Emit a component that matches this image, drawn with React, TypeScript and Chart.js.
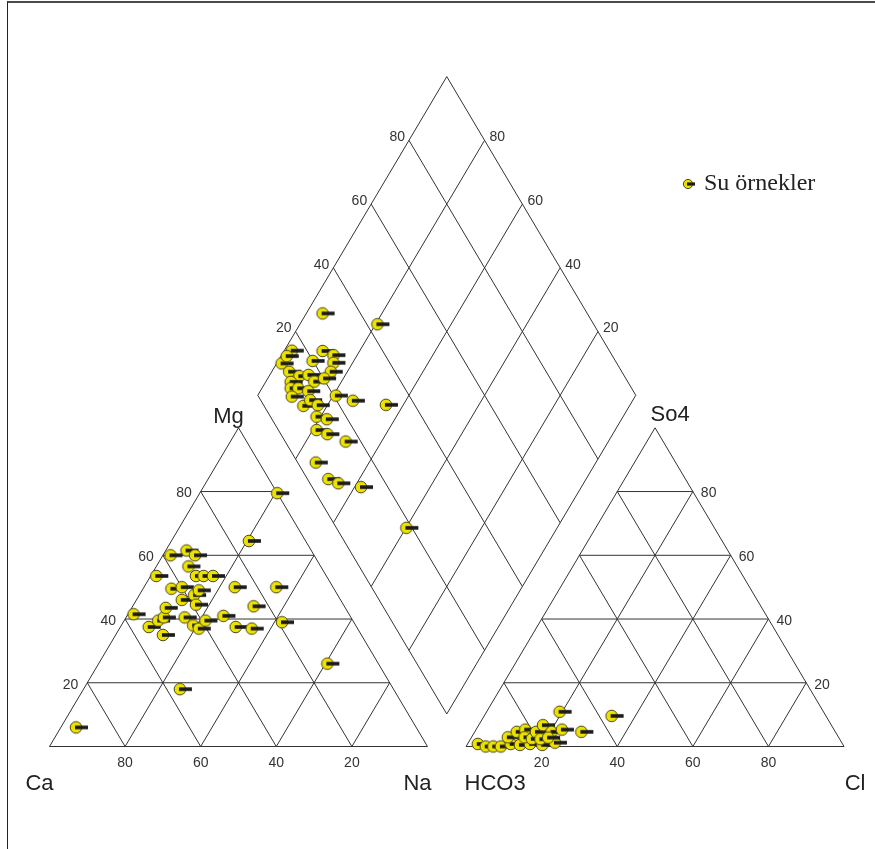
import React, { useEffect, useRef } from 'react';
import { Chart, registerables } from 'chart.js';

Chart.register(...registerables);

// ---------- data ----------
const TICK_VALUES = [20, 40, 60, 80];
const TICK_LABELS = ['20', '40', '60', '80'];
const CATION_TITLES = ['Ca', 'Na', 'Mg'];
const ANION_TITLES = ['HCO3', 'Cl', 'So4'];
const SERIES_NAME = 'Su örnekler';

// cation triangle (% meq)
const cationCa = [90, 56.5, 52.5, 55, 51.5, 49.5, 57, 47.5, 44, 43, 42, 39, 33.5, 32, 28, 19, 24, 42, 38, 39, 43, 40, 36, 26, 15, 45, 34.5, 32.5, 30, 35, 33, 31.5, 38, 15, 0, 13.5];
const cationMg = [6, 18, 35, 37.5, 39.5, 40.5, 41.5, 43.5, 40.5, 38, 37, 39.5, 41, 37.5, 37, 39, 44, 46, 47.5, 44.5, 49.5, 50, 49, 50, 50, 53.5, 53.5, 53.5, 53.5, 56.5, 61.5, 60, 60, 64.5, 79.5, 26];
const cationNa = [4, 25.5, 12.5, 7.5, 9, 10, 1.5, 9, 15.5, 19, 21, 21.5, 25.5, 30.5, 35, 42, 32, 12, 14.5, 16.5, 7.5, 10, 15, 24, 35, 1.5, 12, 14, 16.5, 8.5, 5.5, 8.5, 2, 20.5, 20.5, 60.5];

// anion triangle (% meq)
const anionHCO3 = [96.5, 94.8, 92.8, 90.8, 87.8, 85.5, 82.7, 79.6, 75.9, 87.5, 84.3, 81.7, 83.1, 81.4, 79.2, 76.3, 75.1, 72, 79.2, 76.9, 69.8, 67.2, 56.7];
const anionSO4 = [0.8, 0, 0, 0, 0.8, 0.5, 0.8, 0.5, 1.2, 2.9, 4.6, 5.3, 2.9, 2.4, 4.6, 6.7, 4.6, 5.3, 2.3, 2.8, 10.9, 4.6, 9.6];
const anionCl = [2.7, 5.2, 7.2, 9.2, 11.4, 14, 16.5, 19.9, 22.9, 9.6, 11.1, 13, 14, 16.2, 16.2, 17, 20.3, 22.7, 18.5, 20.3, 19.3, 28.2, 33.7];

// diamond (Ca+Mg %, SO4+Cl %)
const diamondCaMg = [95.7, 79.5, 98, 98.7, 98.5, 89.8, 86.3, 90.9, 85.1, 95.4, 92, 89.8, 84.4, 87.2, 85.1, 93.4, 92.4, 90.4, 87.3, 90.8, 79.3, 74, 64.6, 86.3, 85.4, 82.6, 81.1, 78, 79, 75.5, 69.5, 74.1, 68.2, 64.9, 58.3, 39.9];
const diamondSO4Cl = [30, 42.8, 16, 11.3, 13.8, 24.1, 26.3, 19.9, 25.1, 12, 14, 16.6, 23, 17.1, 20.2, 10.8, 9.8, 11.8, 14, 8.8, 20.6, 24.3, 32.4, 10.4, 13.1, 14.3, 12.2, 14.5, 10.1, 12.3, 16, 4.8, 5.5, 7.5, 12.9, 18.5];

// ---------- geometry ----------
const H = (Math.sqrt(3) / 2) * 100;
const GAP = 10.2;
const ANION_OFFSET = 100 + GAP;

type Pt = { x: number; y: number };

function cationXY(ca: number, mg: number, na: number): Pt {
  const s = ca + mg + na;
  const n = (na / s) * 100;
  const m = (mg / s) * 100;
  return { x: n + m / 2, y: (m * H) / 100 };
}
function anionXY(hco3: number, so4: number, cl: number): Pt {
  const s = hco3 + so4 + cl;
  const c = (cl / s) * 100;
  const q = (so4 / s) * 100;
  return { x: ANION_OFFSET + c + q / 2, y: (q * H) / 100 };
}
function diamondXY(caMg: number, so4Cl: number): Pt {
  const bx = 100 + GAP / 2;
  const by = (GAP * H) / 100;
  return { x: bx + 0.5 * (so4Cl - caMg), y: by + ((caMg + so4Cl) * H) / 100 };
}

// pixel mapping (layout)
const W = 875;
const HT = 849;
const X0 = 49.5;
const SX = 3.78;
const Y0 = 746.5;
const SY = 3.68;
const X_MIN = -X0 / SX;
const X_MAX = X_MIN + W / SX;
const Y_MAX = Y0 / SY;
const Y_MIN = Y_MAX - HT / SY;

function buildSegments(): [Pt, Pt][] {
  const segs: [Pt, Pt][] = [];
  const cA = cationXY(100, 0, 0), cB = cationXY(0, 0, 100), cC = cationXY(0, 100, 0);
  segs.push([cA, cB], [cB, cC], [cC, cA]);
  const aA = anionXY(100, 0, 0), aB = anionXY(0, 0, 100), aC = anionXY(0, 100, 0);
  segs.push([aA, aB], [aB, aC], [aC, aA]);
  TICK_VALUES.forEach((k) => {
    segs.push([cationXY(100 - k, k, 0), cationXY(0, k, 100 - k)]);
    segs.push([cationXY(100 - k, 0, k), cationXY(0, 100 - k, k)]);
    segs.push([cationXY(k, 0, 100 - k), cationXY(k, 100 - k, 0)]);
    segs.push([anionXY(100 - k, k, 0), anionXY(0, k, 100 - k)]);
    segs.push([anionXY(100 - k, 0, k), anionXY(0, 100 - k, k)]);
    segs.push([anionXY(k, 0, 100 - k), anionXY(k, 100 - k, 0)]);
    segs.push([diamondXY(k, 0), diamondXY(k, 100)]);
    segs.push([diamondXY(0, k), diamondXY(100, k)]);
  });
  const d0 = diamondXY(0, 0), d1 = diamondXY(100, 0), d2 = diamondXY(100, 100), d3 = diamondXY(0, 100);
  segs.push([d0, d1], [d1, d2], [d2, d3], [d3, d0]);
  return segs;
}

function makeMarker(r: number, barLen: number, barH: number): HTMLCanvasElement {
  const c = document.createElement('canvas');
  c.width = 34;
  c.height = 18;
  const g = c.getContext('2d')!;
  g.beginPath();
  g.arc(17, 9, r, 0, Math.PI * 2);
  g.fillStyle = '#ece200';
  g.fill();
  g.lineWidth = 1;
  g.strokeStyle = '#4f4718';
  g.stroke();
  g.fillStyle = '#1a1a1a';
  g.fillRect(16, 9 - barH / 2, barLen, barH);
  return c;
}

export default function App() {
  const ref = useRef<HTMLCanvasElement>(null);

  useEffect(() => {
    document.body.style.margin = '0';
    const canvas = ref.current;
    if (!canvas) return;
    const marker = makeMarker(5.8, 13, 3.6);
    const legendMarker = makeMarker(4.6, 8, 3.2);

    const lineSets = buildSegments().map((s) => ({
      type: 'scatter' as const,
      data: [s[0], s[1]],
      showLine: true,
      borderColor: '#333333',
      borderWidth: 1,
      pointRadius: 0,
      pointHoverRadius: 0,
      order: 2,
    }));

    const pointCommon = {
      showLine: false,
      pointStyle: marker as any,
      pointRadius: 6,
      pointHoverRadius: 6,
      order: 0,
    };

    const cationPts = cationCa.map((ca, i) => cationXY(ca, cationMg[i], cationNa[i]));
    const anionPts = anionHCO3.map((h, i) => anionXY(h, anionSO4[i], anionCl[i]));
    const diamondPts = diamondCaMg.map((a, i) => diamondXY(a, diamondSO4Cl[i]));

    const labelsPlugin = {
      id: 'piperLabels',
      afterDatasetsDraw(chart: any) {
        const ctx = chart.ctx as CanvasRenderingContext2D;
        const xs = chart.scales.x;
        const ys = chart.scales.y;
        const P = (p: Pt) => ({ x: xs.getPixelForValue(p.x), y: ys.getPixelForValue(p.y) });
        ctx.save();
        ctx.fillStyle = '#333';
        ctx.textBaseline = 'middle';
        ctx.font = '14px "Liberation Sans", Arial, sans-serif';
        TICK_VALUES.forEach((t, i) => {
          const lab = TICK_LABELS[i];
          let p = P(cationXY(t, 0, 100 - t));
          ctx.textAlign = 'center';
          ctx.fillText(lab, p.x, p.y + 17);
          p = P(cationXY(100 - t, t, 0));
          ctx.textAlign = 'right';
          ctx.fillText(lab, p.x - 9, p.y + 2);
          p = P(anionXY(100 - t, 0, t));
          ctx.textAlign = 'center';
          ctx.fillText(lab, p.x, p.y + 17);
          p = P(anionXY(0, t, 100 - t));
          ctx.textAlign = 'left';
          ctx.fillText(lab, p.x + 8, p.y + 2);
          p = P(diamondXY(100, t));
          ctx.textAlign = 'right';
          ctx.fillText(lab, p.x - 4, p.y - 3);
          p = P(diamondXY(t, 100));
          ctx.textAlign = 'left';
          ctx.fillText(lab, p.x + 5, p.y - 3);
        });
        ctx.fillStyle = '#222';
        ctx.font = '22px "Liberation Sans", Arial, sans-serif';
        ctx.textAlign = 'center';
        let p = P(cationXY(100, 0, 0));
        ctx.fillText(CATION_TITLES[0], p.x - 10, p.y + 37);
        p = P(cationXY(0, 0, 100));
        ctx.fillText(CATION_TITLES[1], p.x - 10, p.y + 37);
        p = P(cationXY(0, 100, 0));
        ctx.fillText(CATION_TITLES[2], p.x - 10, p.y - 11);
        p = P(anionXY(100, 0, 0));
        ctx.fillText(ANION_TITLES[0], p.x + 29, p.y + 37);
        p = P(anionXY(0, 0, 100));
        ctx.fillText(ANION_TITLES[1], p.x + 11, p.y + 37);
        p = P(anionXY(0, 100, 0));
        ctx.fillText(ANION_TITLES[2], p.x + 15, p.y - 13);

        // legend
        ctx.drawImage(legendMarker, 688 - 17, 184 - 9);
        ctx.font = '24px "Liberation Serif", "Times New Roman", serif';
        ctx.textAlign = 'left';
        ctx.textBaseline = 'alphabetic';
        ctx.fillStyle = '#222';
        ctx.fillText(SERIES_NAME, 704, 190);
        ctx.restore();
      },
    };

    const chart = new Chart(canvas, {
      type: 'scatter',
      data: {
        datasets: [
          { label: SERIES_NAME, data: cationPts, ...pointCommon },
          { label: SERIES_NAME, data: anionPts, ...pointCommon },
          { label: SERIES_NAME, data: diamondPts, ...pointCommon },
          ...lineSets,
        ] as any,
      },
      options: {
        responsive: false,
        maintainAspectRatio: false,
        devicePixelRatio: 1,
        animation: false,
        events: [],
        layout: { padding: 0, autoPadding: false },
        scales: {
          x: { type: 'linear', display: false, min: X_MIN, max: X_MAX },
          y: { type: 'linear', display: false, min: Y_MIN, max: Y_MAX },
        },
        plugins: {
          legend: { display: false },
          tooltip: { enabled: false },
        },
      },
      plugins: [labelsPlugin],
    });

    return () => chart.destroy();
  }, []);

  return (
    <div style={{ position: 'relative', width: W, height: HT, overflow: 'hidden', background: '#fff' }}>
      <canvas ref={ref} width={W} height={HT} style={{ display: 'block' }} />
      <div
        style={{
          position: 'absolute',
          left: 7,
          top: 1,
          right: -4,
          bottom: -4,
          borderTop: '2px solid #4a4a4a',
          borderLeft: '1px solid #222',
          pointerEvents: 'none',
        }}
      />
    </div>
  );
}
